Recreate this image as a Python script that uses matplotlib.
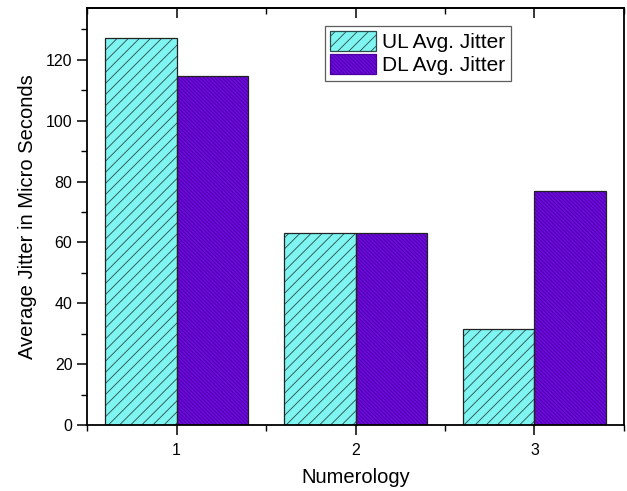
import numpy as np
import matplotlib.pyplot as plt
from matplotlib.ticker import MultipleLocator, NullFormatter

plt.rcParams['font.family'] = ['Liberation Sans', 'DejaVu Sans']
plt.rcParams['hatch.linewidth'] = 0.6

numerology = [1, 2, 3]
ul_jitter = [127.0, 63.1, 31.6]
dl_jitter = [114.7, 63.1, 76.9]

ul_color = '#7ef5f0'
dl_color = '#6c0ade'
width = 0.4

fig = plt.figure(figsize=(6.27, 4.91), dpi=100)
ax = fig.add_axes([0.1388, 0.1344, 0.8564, 0.8493])

x = np.array(numerology)
# filled bars with hatch drawn in the edge colour, then a plain outline on top
ax.bar(x - width / 2, ul_jitter, width, color=ul_color, edgecolor='#2a4a4a',
       hatch='///', linewidth=0, label='UL Avg. Jitter')
ax.bar(x + width / 2, dl_jitter, width, color=dl_color, edgecolor='#4a00a0',
       hatch='\\' * 9, linewidth=0, label='DL Avg. Jitter')
ax.bar(x - width / 2, ul_jitter, width, fill=False, edgecolor='#222222', linewidth=0.9)
ax.bar(x + width / 2, dl_jitter, width, fill=False, edgecolor='#222222', linewidth=0.9)

ax.set_xlim(0.5, 3.5)
ax.set_ylim(0, 137)
ax.set_xticks(numerology)
ax.xaxis.set_minor_locator(MultipleLocator(0.5))
ax.yaxis.set_major_locator(MultipleLocator(20))
ax.yaxis.set_minor_locator(MultipleLocator(10))

for s in ax.spines.values():
    s.set_linewidth(1.3)
ax.tick_params(axis='both', which='major', labelsize=11.5, width=1.1, length=7, direction='out')
ax.tick_params(axis='both', which='minor', width=1.0, length=4, direction='out')
ax.tick_params(axis='x', which='both', top=False, pad=6)
ax.tick_params(axis='y', which='both', right=False)

# top axis: ticks pointing inward, no labels
top = ax.secondary_xaxis('top')
top.set_xticks(numerology)
top.xaxis.set_minor_locator(MultipleLocator(0.5))
top.xaxis.set_major_formatter(NullFormatter())
top.tick_params(which='major', direction='in', length=7, width=1.1)
top.tick_params(which='minor', direction='in', length=4, width=1.0)
top.spines['top'].set_linewidth(1.3)

ax.set_xlabel('Numerology', fontsize=14.5, labelpad=7)
ax.set_ylabel('Average Jitter in Micro Seconds', fontsize=14.5, labelpad=6)

handles, labels = ax.get_legend_handles_labels()
leg = ax.legend(handles[:2], labels[:2], loc='upper left', bbox_to_anchor=(0.443, 0.957),
                fontsize=15, fancybox=False, frameon=True, edgecolor='#333333',
                handlelength=2.2, handleheight=1.1, labelspacing=0.1,
                handletextpad=0.3, borderpad=0.25, borderaxespad=0)
leg.get_frame().set_linewidth(0.9)
for h in leg.legend_handles:
    h.set_linewidth(0.9)

fig.savefig('out.png', dpi=100)
